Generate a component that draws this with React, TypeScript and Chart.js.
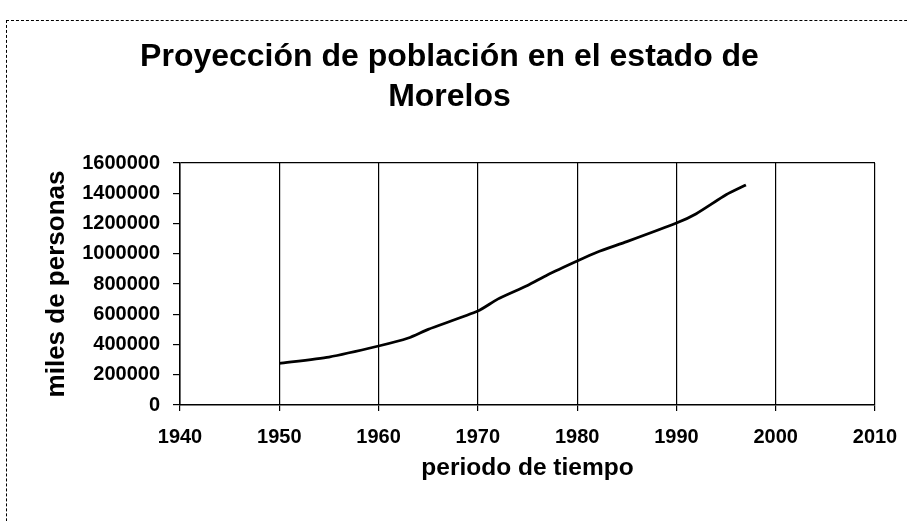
import React, { useEffect, useRef } from "react";
import { Chart, registerables } from "chart.js";

Chart.register(...registerables);

const titleLines = ["Proyección de población en el estado de", "Morelos"];
const xAxisTitle = "periodo de tiempo";
const yAxisTitle = "miles de personas";

const years = [1950, 1955, 1960, 1963, 1965, 1970, 1972, 1975, 1977, 1980, 1982, 1985, 1990, 1992, 1995, 1997];
const population = [275000, 317000, 390000, 443000, 500000, 621000, 700000, 790000, 860000, 952000, 1010000, 1080000, 1203000, 1265000, 1390000, 1455000];

const xMin = 1940;
const xMax = 2010;
const xStep = 10;
const yMin = 0;
const yMax = 1600000;
const yStep = 200000;

const FONT = "'Liberation Sans', Arial, Helvetica, sans-serif";

export default function App() {
  const canvasRef = useRef<HTMLCanvasElement | null>(null);

  useEffect(() => {
    if (!canvasRef.current) return;
    const chart = new Chart(canvasRef.current, {
      type: "line",
      data: {
        datasets: [
          {
            label: "Población",
            data: years.map((y, i) => ({ x: y, y: population[i] })),
            borderColor: "#000",
            borderWidth: 2.8,
            pointRadius: 0,
            tension: 0.2,
            fill: false,
          },
        ],
      },
      options: {
        animation: false,
        responsive: false,
        layout: { padding: { left: 24, right: 32, top: 0, bottom: 30 } },
        plugins: {
          legend: { display: false },
          tooltip: { enabled: false },
          title: {
            display: true,
            text: titleLines,
            color: "#000",
            font: { family: FONT, size: 32, weight: "bold", lineHeight: 1.25 },
            padding: { top: 37, bottom: 46 },
          },
        },
        scales: {
          x: {
            type: "linear",
            min: xMin,
            max: xMax,
            afterFit: (s: any) => {
              s.height = 86;
              s.paddingRight = 0;
              s.paddingLeft = 0;
            },
            ticks: {
              stepSize: xStep,
              color: "#000",
              padding: 14,
              font: { family: FONT, size: 20, weight: "bold" },
              callback: (v: any) => String(v),
            },
            grid: {
              color: "#000",
              lineWidth: 1.2,
              tickLength: 6,
              tickColor: "#000",
            },
            border: { display: true, color: "#000", width: 1.5 },
            title: {
              display: true,
              text: xAxisTitle,
              color: "#000",
              font: { family: FONT, size: 24.5, weight: "bold", lineHeight: 1.2 },
              padding: { top: 0, bottom: 8 },
            },
          },
          y: {
            type: "linear",
            min: yMin,
            max: yMax,
            afterFit: (s: any) => {
              s.width = 156;
            },
            ticks: {
              stepSize: yStep,
              color: "#000",
              padding: 13,
              font: { family: FONT, size: 20, weight: "bold" },
              callback: (v: any) => String(v),
            },
            grid: {
              color: (ctx: any) => (ctx.tick && ctx.tick.value === yMax ? "#000" : "rgba(0,0,0,0)"),
              lineWidth: 1.2,
              tickLength: 7,
              tickColor: "#000",
            },
            border: { display: true, color: "#000", width: 1.5 },
            title: {
              display: true,
              text: yAxisTitle,
              color: "#000",
              font: { family: FONT, size: 26, weight: "bold", lineHeight: 1.2 },
              padding: { top: 17, bottom: 0 },
            },
          },
        },
      },
    });
    return () => chart.destroy();
  }, []);

  return (
    <div style={{ position: "fixed", left: 0, top: 0, width: 907, height: 521, background: "#fff", overflow: "hidden" }}>
      <div
        style={{
          position: "absolute",
          left: 6,
          top: 20,
          width: 1000,
          height: 600,
          borderTop: "1px dashed #000",
          borderLeft: "1px dashed #000",
        }}
      />
      <canvas ref={canvasRef} width={907} height={521} style={{ position: "absolute", left: 0, top: 0 }} />
    </div>
  );
}
